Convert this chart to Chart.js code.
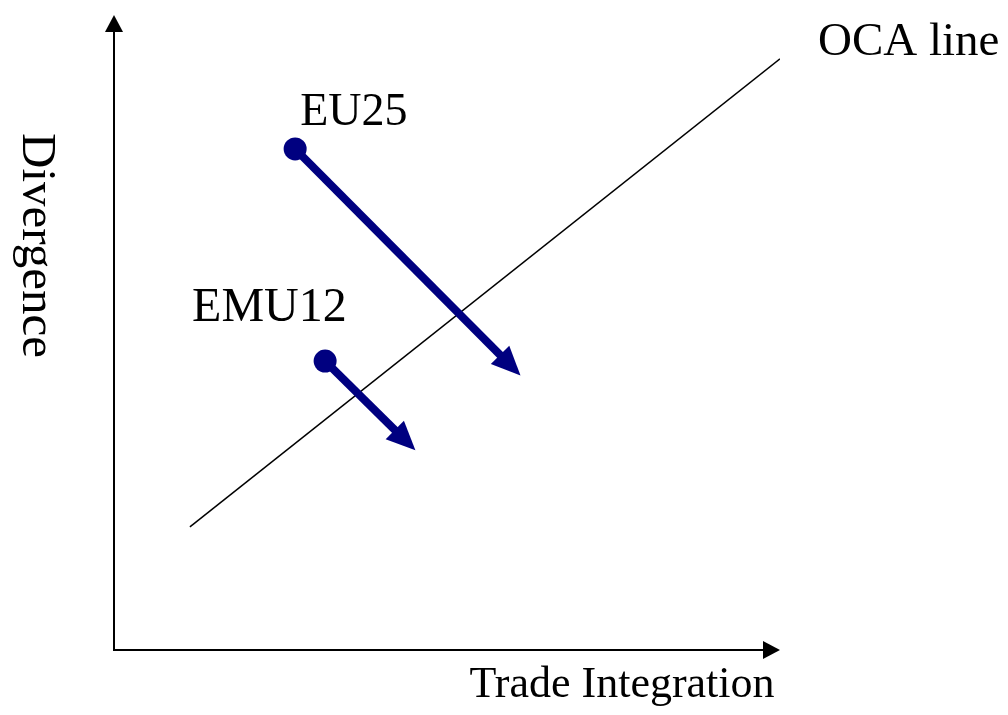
<!DOCTYPE html>
<html>
<head>
<meta charset="utf-8">
<script src="https://cdn.jsdelivr.net/npm/chart.js@4/dist/chart.umd.min.js"></script>
<style>
  html, body { margin:0; padding:0; background:#fff; }
  #wrap { width:1008px; height:715px; position:relative; }
</style>
</head>
<body>
<div id="wrap"><canvas id="c"></canvas></div>
<script>
// chart values (abstract units, 0..100 on both axes)
const seriesNames = ['OCA line', 'EU25', 'EMU12'];
const ocaX   = [11.4, 100];
const ocaY   = [19.4, 93.1];
const eu25X  = [27.2, 58.6];
const eu25Y  = [78.9, 45.8];
const emu12X = [31.7, 42.8];
const emu12Y = [45.5, 34.0];
const axisTitles = ['Trade Integration', 'Divergence'];

const NAVY = '#000080';
const SERIF = '"Liberation Serif", "Times New Roman", serif';

function pts(xs, ys){ return xs.map((x, i) => ({ x, y: ys[i] })); }

function arrowHead(ctx, tx, ty, dx, dy, len, half, color){
    ctx.save();
    ctx.fillStyle = color;
    ctx.beginPath();
    ctx.moveTo(tx, ty);
    ctx.lineTo(tx - dx*len - dy*half, ty - dy*len + dx*half);
    ctx.lineTo(tx - dx*len + dy*half, ty - dy*len - dx*half);
    ctx.closePath();
    ctx.fill();
    ctx.restore();
}

const diagramPlugin = {
    id: 'diagram',
    afterDatasetsDraw(chart){
        const ctx = chart.ctx;
        const xs = chart.scales.x, ys = chart.scales.y;
        const ox = xs.getPixelForValue(0), oy = ys.getPixelForValue(0);
        const right = xs.getPixelForValue(100), top = ys.getPixelForValue(100);

        // axes with arrows
        ctx.save();
        ctx.strokeStyle = '#000';
        ctx.lineWidth = 2;
        ctx.beginPath();
        ctx.moveTo(ox, top + 12);
        ctx.lineTo(ox, oy);
        ctx.lineTo(right - 12, oy);
        ctx.stroke();
        ctx.restore();
        arrowHead(ctx, ox, top, 0, -1, 17, 9, '#000');
        arrowHead(ctx, right, oy, 1, 0, 17, 9, '#000');

        // arrowheads on the movement lines
        [1, 2].forEach(i => {
            const d = chart.getDatasetMeta(i).data;
            const p0 = d[d.length - 2], p1 = d[d.length - 1];
            let dx = p1.x - p0.x, dy = p1.y - p0.y;
            const l = Math.hypot(dx, dy); dx /= l; dy /= l;
            arrowHead(ctx, p1.x + dx*23, p1.y + dy*23, dx, dy, 29, 13, NAVY);
        });

        // series labels
        ctx.save();
        ctx.fillStyle = '#000';
        ctx.textBaseline = 'alphabetic';
        const offs = { 0: [38, -4, 1, 47], 1: [5, -24, 0, 46], 2: [-133, -40, 0, 48] };
        [0, 1, 2].forEach(i => {
            const d = chart.getDatasetMeta(i).data;
            const p = offs[i][2] ? d[d.length - 1] : d[0];
            ctx.font = offs[i][3] + 'px ' + SERIF;
            ctx.fillText(seriesNames[i], p.x + offs[i][0], p.y + offs[i][1]);
        });

        // axis titles
        ctx.textAlign = 'center';
        ctx.font = '44px ' + SERIF;
        ctx.fillText(axisTitles[0], (ox + right) / 2 + 175, oy + 47);
        ctx.font = '49px ' + SERIF;
        ctx.translate(23, (top + oy) / 2 - 87);
        ctx.rotate(Math.PI / 2);
        ctx.fillText(axisTitles[1], 0, 0);
        ctx.restore();
    }
};

new Chart(document.getElementById('c'), {
    type: 'scatter',
    data: {
        datasets: [
            { label: seriesNames[0], data: pts(ocaX, ocaY), showLine: true, borderColor: '#000',
              borderWidth: 1.5, pointRadius: 0, order: 2 },
            { label: seriesNames[1], data: pts(eu25X, eu25Y), showLine: true, borderColor: NAVY,
              backgroundColor: NAVY, borderWidth: 8, borderCapStyle: 'butt', pointRadius: [11.5, 0],
              pointBorderWidth: 0, order: 1 },
            { label: seriesNames[2], data: pts(emu12X, emu12Y), showLine: true, borderColor: NAVY,
              backgroundColor: NAVY, borderWidth: 8, borderCapStyle: 'butt', pointRadius: [11.5, 0],
              pointBorderWidth: 0, order: 1 }
        ]
    },
    options: {
        responsive: true,
        maintainAspectRatio: false,
        animation: false,
        layout: { padding: { left: 114, right: 228, top: 15, bottom: 65 } },
        plugins: { legend: { display: false }, tooltip: { enabled: false } },
        scales: {
            x: { type: 'linear', min: 0, max: 100, display: false },
            y: { type: 'linear', min: 0, max: 100, display: false }
        }
    },
    plugins: [diagramPlugin]
});
</script>
</body>
</html>
